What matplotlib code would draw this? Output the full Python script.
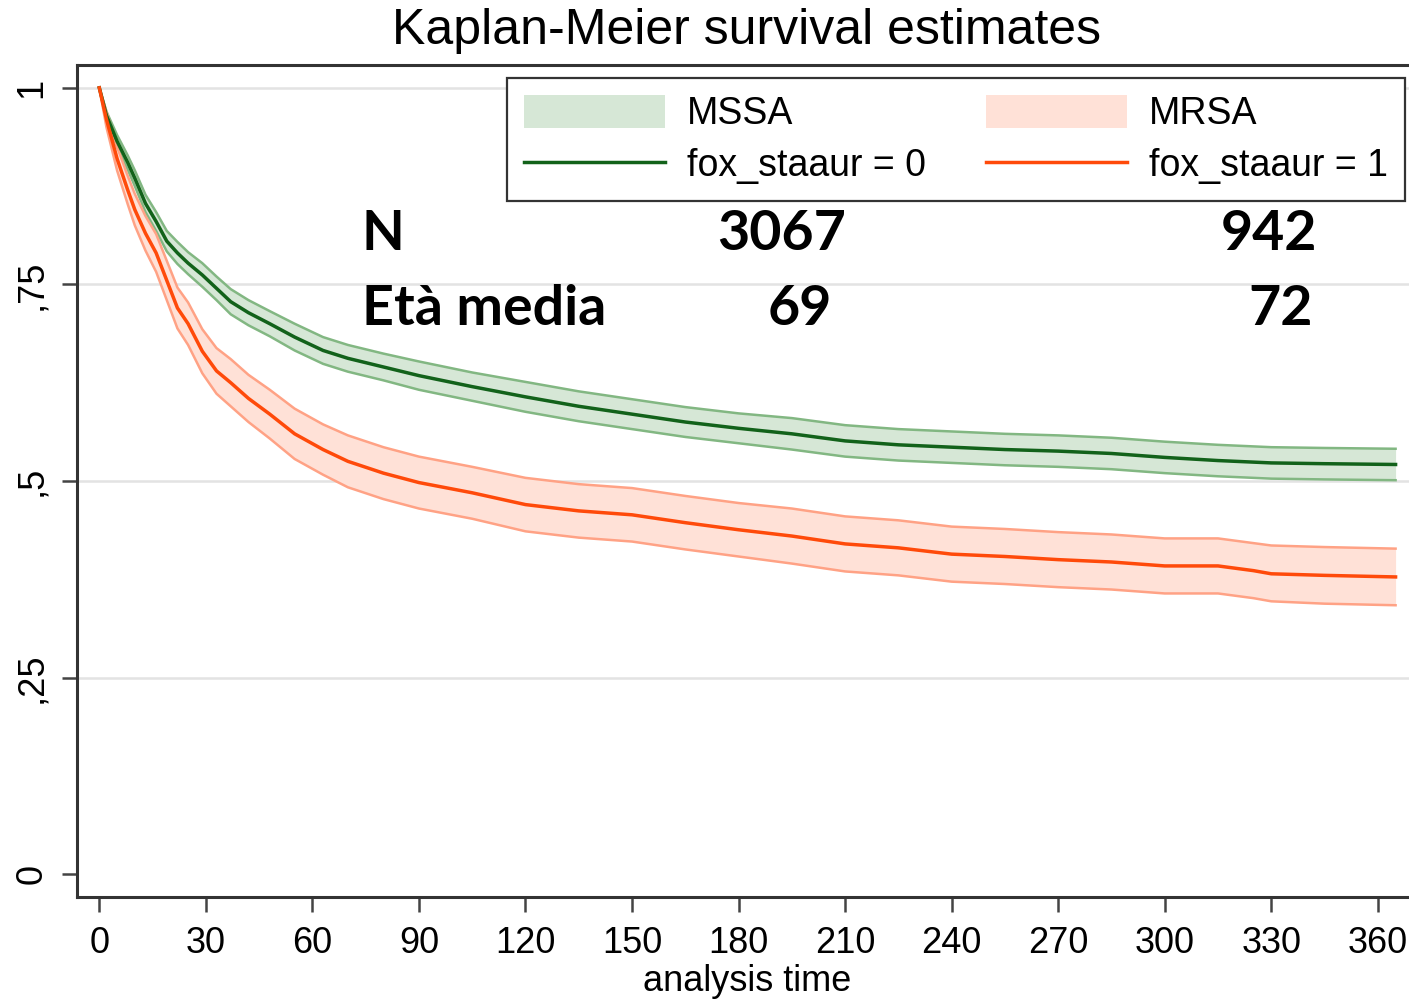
import matplotlib
matplotlib.use("Agg")
import matplotlib.pyplot as plt
from matplotlib.patches import Patch
from matplotlib.lines import Line2D

plt.rcParams['font.family'] = ['Liberation Sans', 'DejaVu Sans']

# analysis time (days)
t = [0, 2, 5, 8, 10, 13, 16, 19, 22, 25, 29, 33, 37, 42, 48, 55, 63, 70, 80, 90,
     105, 120, 135, 150, 165, 180, 195, 210, 225, 240, 255, 270, 285, 300, 315,
     325, 330, 345, 365]

# MSSA (fox_staaur = 0)
mssa = [1.0, 0.965, 0.932, 0.905, 0.885, 0.853, 0.83, 0.805, 0.79, 0.777, 0.762,
        0.745, 0.728, 0.714, 0.70, 0.683, 0.666, 0.656, 0.645, 0.634, 0.62, 0.607,
        0.595, 0.585, 0.575, 0.567, 0.56, 0.551, 0.546, 0.543, 0.54, 0.538, 0.535,
        0.53, 0.526, 0.524, 0.523, 0.522, 0.521]
mssa_hi = [1.0, 0.970, 0.940, 0.914, 0.895, 0.864, 0.842, 0.818, 0.804, 0.791, 0.777,
           0.760, 0.744, 0.730, 0.716, 0.700, 0.683, 0.673, 0.662, 0.652, 0.638, 0.626,
           0.614, 0.604, 0.594, 0.586, 0.580, 0.571, 0.566, 0.563, 0.560, 0.558, 0.555,
           0.550, 0.546, 0.544, 0.543, 0.542, 0.541]
mssa_lo = [1.0, 0.960, 0.925, 0.896, 0.875, 0.842, 0.818, 0.792, 0.776, 0.763, 0.747,
           0.730, 0.712, 0.698, 0.684, 0.666, 0.649, 0.639, 0.628, 0.616, 0.602, 0.588,
           0.576, 0.566, 0.556, 0.548, 0.540, 0.531, 0.526, 0.523, 0.520, 0.518, 0.515,
           0.510, 0.506, 0.504, 0.503, 0.502, 0.501]

# MRSA (fox_staaur = 1)
mrsa = [1.0, 0.96, 0.91, 0.87, 0.845, 0.815, 0.79, 0.755, 0.72, 0.70, 0.665, 0.64,
        0.625, 0.605, 0.585, 0.56, 0.54, 0.525, 0.51, 0.498, 0.485, 0.47, 0.462,
        0.457, 0.447, 0.438, 0.43, 0.42, 0.415, 0.407, 0.404, 0.40, 0.397, 0.392,
        0.392, 0.386, 0.382, 0.38, 0.378]
mrsa_hi = [1.0, 0.970, 0.925, 0.888, 0.865, 0.837, 0.814, 0.780, 0.746, 0.727, 0.693,
           0.669, 0.655, 0.635, 0.616, 0.592, 0.572, 0.558, 0.543, 0.531, 0.518, 0.504,
           0.496, 0.491, 0.481, 0.472, 0.465, 0.455, 0.450, 0.442, 0.439, 0.435, 0.432,
           0.427, 0.427, 0.421, 0.418, 0.416, 0.414]
mrsa_lo = [1.0, 0.950, 0.895, 0.852, 0.825, 0.793, 0.766, 0.730, 0.694, 0.673, 0.637,
           0.611, 0.595, 0.575, 0.554, 0.528, 0.508, 0.492, 0.477, 0.465, 0.452, 0.436,
           0.428, 0.423, 0.413, 0.404, 0.395, 0.385, 0.380, 0.372, 0.369, 0.365, 0.362,
           0.357, 0.357, 0.351, 0.347, 0.344, 0.342]

xticks = list(range(0, 361, 30))
yticks = [0, 0.25, 0.5, 0.75, 1]
ylabels = ['0', ',25', ',5', ',75', '1']

n_vals = ['3067', '942']
age_vals = ['69', '72']

g_line, g_fill, g_edge = '#12621a', '#d6e7d6', '#82b782'
r_line, r_fill, r_edge = '#ff4a0a', '#ffe1d7', '#ffa285'

fig = plt.figure(figsize=(14.09, 10), dpi=100)
ax = fig.add_axes([0.0546, 0.103, 0.951, 0.832])

for y in yticks[1:]:
    ax.axhline(y, color='#e3e3e3', lw=1.8, zorder=0)

ax.fill_between(t, mssa_lo, mssa_hi, color=g_fill, lw=0, zorder=1)
ax.plot(t, mssa_hi, color=g_edge, lw=1.8, zorder=2)
ax.plot(t, mssa_lo, color=g_edge, lw=1.8, zorder=2)
ax.fill_between(t, mrsa_lo, mrsa_hi, color=r_fill, lw=0, zorder=1)
ax.plot(t, mrsa_hi, color=r_edge, lw=1.8, zorder=2)
ax.plot(t, mrsa_lo, color=r_edge, lw=1.8, zorder=2)
ax.plot(t, mssa, color=g_line, lw=2.5, zorder=3)
ax.plot(t, mrsa, color=r_line, lw=2.5, zorder=3)

ax.set_xlim(-6.3, 371)
ax.set_ylim(-0.029, 1.029)
ax.set_xticks(xticks)
ax.set_yticks(yticks)
ax.set_yticklabels(ylabels, rotation=90, va='center')
ax.tick_params(axis='both', labelsize=26, length=11, width=1.8, color='#444444',
               direction='out')
ax.tick_params(axis='x', pad=10)
ax.tick_params(axis='y', pad=9)
for s in ['left', 'bottom', 'top']:
    ax.spines[s].set_linewidth(2.2)
    ax.spines[s].set_color('#333333')
ax.spines['right'].set_visible(False)

ax.set_xlabel('analysis time', fontsize=26, labelpad=2)
fig.suptitle('Kaplan-Meier survival estimates', fontsize=36, x=0.53, y=0.992,
             va='top')

handles = [Patch(facecolor=g_fill, edgecolor='none'),
           Line2D([], [], color=g_line, lw=2.5),
           Patch(facecolor=r_fill, edgecolor='none'),
           Line2D([], [], color=r_line, lw=2.5)]
labels = ['MSSA', 'fox_staaur = 0', 'MRSA', 'fox_staaur = 1']
leg = ax.legend(handles, labels, ncol=2, loc='upper right',
                bbox_to_anchor=(1405 / 1409, 1 - 78 / 1000),
                bbox_transform=fig.transFigure, fontsize=27, fancybox=False,
                framealpha=1, edgecolor='#333333', handlelength=3.75,
                handleheight=1.0, handletextpad=0.6, columnspacing=1.6,
                labelspacing=0.38, borderpad=0.45, borderaxespad=0)
leg.get_frame().set_linewidth(1.6)

bold = dict(fontsize=40, fontweight='bold', family=['Lato', 'DejaVu Sans'],
            color='black', va='baseline')
ax.text(73.9, 0.794, 'N', ha='left', **bold)
ax.text(73.9, 0.698, 'Età media', ha='left', fontstretch='expanded', **bold)
ax.text(192.2, 0.794, n_vals[0], ha='center', **bold)
ax.text(329.2, 0.794, n_vals[1], ha='center', **bold)
ax.text(197.3, 0.698, age_vals[0], ha='center', **bold)
ax.text(332.5, 0.698, age_vals[1], ha='center', **bold)

fig.savefig('out.png', dpi=100)
